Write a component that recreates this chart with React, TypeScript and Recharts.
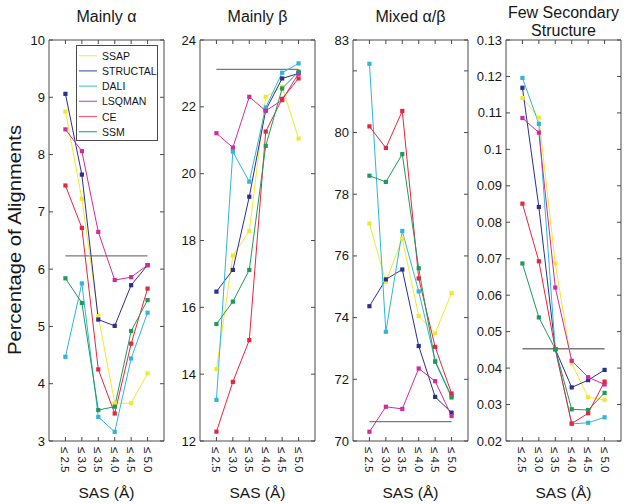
import React from "react";
import { LineChart, Line, XAxis, YAxis, ReferenceLine, ReferenceArea } from "recharts";

const FONT = "'Liberation Sans', Arial, Helvetica, sans-serif";

// ---------- data ----------
const sasCutoffs = [2.5, 3.0, 3.5, 4.0, 4.5, 5.0];
const sasTickLabels = ["≤ 2.5", "≤ 3.0", "≤ 3.5", "≤ 4.0", "≤ 4.5", "≤ 5.0"];
const methodNames = ["SSAP", "STRUCTAL", "DALI", "LSQMAN", "CE", "SSM"];
const methodColors = ["#f2e92e", "#2d2f8e", "#31b5d8", "#cf2b9e", "#e4263f", "#1f9a5d"];
const legendColors = ["#f3ec6a", "#5b5db0", "#5cc8d0", "#c45cc0", "#e8607a", "#3fa882"];

const panelTitles = [["Mainly α"], ["Mainly β"], ["Mixed α/β"], ["Few Secondary", "Structure"]];
const yAxisTitle = "Percentage of Alignments";
const xAxisTitle = "SAS (Å)";

// Mainly alpha
const alphaSSAP = [8.75, 7.23, 5.18, 3.66, 3.66, 4.18];
const alphaSTRUCTAL = [9.06, 7.65, 5.12, 5.01, 5.72, 6.07];
const alphaDALI = [4.47, 5.75, 3.42, 3.16, 4.44, 5.24];
const alphaLSQMAN = [8.44, 8.06, 6.65, 5.81, 5.86, 6.07];
const alphaCE = [7.46, 6.72, 4.25, 3.48, 4.7, 5.66];
const alphaSSM = [5.84, 5.41, 3.54, 3.6, 4.92, 5.46];
const alphaAverage = 6.23;
const alphaTicks = [3, 4, 5, 6, 7, 8, 9, 10];
const alphaTickLabels = ["3", "4", "5", "6", "7", "8", "9", "10"];

// Mainly beta
const betaSSAP = [14.15, 17.55, 18.28, 22.3, 22.6, 21.05];
const betaSTRUCTAL = [16.47, 17.12, 19.31, 21.9, 22.85, 23.0];
const betaDALI = [13.23, 20.66, 19.76, 21.98, 23.02, 23.3];
const betaLSQMAN = [21.21, 20.78, 22.3, 21.88, 22.2, 23.0];
const betaCE = [12.28, 13.77, 15.02, 21.26, 22.24, 22.85];
const betaSSM = [15.5, 16.17, 17.12, 20.83, 22.55, 23.05];
const betaAverage = 23.12;
const betaTicks = [12, 14, 16, 18, 20, 22, 24];
const betaTickLabels = ["12", "14", "16", "18", "20", "22", "24"];

// Mixed alpha/beta
const mixedSSAP = [77.05, 75.16, 76.56, 74.05, 73.49, 74.8];
const mixedSTRUCTAL = [74.37, 75.24, 75.56, 73.08, 71.43, 70.92];
const mixedDALI = [82.23, 73.54, 76.81, 74.85, 72.6, 71.45];
const mixedLSQMAN = [70.3, 71.11, 71.04, 72.35, 71.94, 70.81];
const mixedCE = [80.2, 79.5, 80.7, 75.27, 73.05, 71.54];
const mixedSSM = [78.6, 78.4, 79.3, 75.6, 72.57, 71.41];
const mixedAverage = 70.63;
const mixedTicks = [70, 72, 74, 76, 78, 80, 82, 83];
const mixedTickLabels = ["70", "72", "74", "76", "78", "80", "", "83"];

// Few secondary structure
const fewSSAP = [0.1141, 0.1087, 0.0687, 0.0413, 0.032, 0.0313];
const fewSTRUCTAL = [0.1169, 0.0842, 0.0452, 0.0347, 0.0367, 0.0395];
const fewDALI = [0.1196, 0.107, 0.0452, 0.0247, 0.025, 0.0265];
const fewLSQMAN = [0.1086, 0.1046, 0.0621, 0.042, 0.0375, 0.0355];
const fewCE = [0.0851, 0.0693, 0.0452, 0.0248, 0.0276, 0.0363];
const fewSSM = [0.0687, 0.0539, 0.0452, 0.0287, 0.0285, 0.0332];
const fewAverage = 0.0453;
const fewTicks = [0.02, 0.03, 0.04, 0.05, 0.06, 0.07, 0.08, 0.09, 0.1, 0.11, 0.12, 0.13];
const fewTickLabels = ["0.02", "0.03", "0.04", "0.05", "0.06", "0.07", "0.08", "0.09", "0.1", "0.11", "0.12", "0.13"];

// ---------- layout ----------
const PANEL_LEFTS = [49, 200, 353, 506];
const PLOT_W = 115;
const PLOT_TOP = 40;
const PLOT_BOTTOM = 441;
const YAXIS_W = 45;
const RIGHT_M = 4;
const CHART_H = 504;
const FRAME = "#4a4a4a";
const TEXT = "#161616";

type PanelProps = {
  series: number[][];
  ticks: number[];
  tickLabels: string[];
  avg: number;
};

function Panel({ series, ticks, tickLabels, avg }: PanelProps) {
  const rows = sasCutoffs.map((x, i) => {
    const r: any = { sas: x };
    methodNames.forEach((m, j) => {
      r[m] = series[j][i];
    });
    return r;
  });
  const lo = ticks[0];
  const hi = ticks[ticks.length - 1];
  const plotRight = YAXIS_W + PLOT_W;

  const XTick = (p: any) => {
    const x = p.x;
    const idx = sasCutoffs.indexOf(p.payload.value);
    return (
      <g>
        <line x1={x} x2={x} y1={PLOT_BOTTOM} y2={PLOT_BOTTOM - 4} stroke={FRAME} />
        <line x1={x} x2={x} y1={PLOT_TOP} y2={PLOT_TOP + 4} stroke={FRAME} />
        <text
          transform={`translate(${x},${PLOT_BOTTOM + 6}) rotate(90)`}
          fontSize={11.5}
          fontFamily={FONT}
          fill={TEXT}
          textAnchor="start"
          dominantBaseline="central"
        >
          {sasTickLabels[idx]}
        </text>
      </g>
    );
  };

  const YTick = (p: any) => {
    const y = p.y;
    const idx = ticks.indexOf(p.payload.value);
    return (
      <g>
        <line x1={YAXIS_W} x2={YAXIS_W + 4} y1={y} y2={y} stroke={FRAME} />
        <line x1={plotRight - 4} x2={plotRight} y1={y} y2={y} stroke={FRAME} />
        <text
          x={YAXIS_W - 4}
          y={y}
          fontSize={13}
          fontFamily={FONT}
          fill={TEXT}
          textAnchor="end"
          dominantBaseline="central"
        >
          {tickLabels[idx]}
        </text>
      </g>
    );
  };

  return (
    <LineChart
      width={YAXIS_W + PLOT_W + RIGHT_M}
      height={CHART_H}
      data={rows}
      margin={{ top: PLOT_TOP, right: RIGHT_M, bottom: 0, left: 0 }}
    >
      <XAxis
        dataKey="sas"
        type="number"
        domain={[2, 5.5]}
        ticks={sasCutoffs}
        interval={0}
        height={CHART_H - PLOT_BOTTOM}
        axisLine={false}
        tickLine={false}
        tick={XTick}
        allowDataOverflow
      />
      <YAxis
        type="number"
        domain={[lo, hi]}
        ticks={ticks}
        interval={0}
        width={YAXIS_W}
        axisLine={false}
        tickLine={false}
        tick={YTick}
        allowDataOverflow
      />
      <ReferenceArea x1={2} x2={5.5} y1={lo} y2={hi} fill="none" stroke={FRAME} strokeWidth={1} ifOverflow="visible" />
      <ReferenceLine
        segment={[
          { x: 2.5, y: avg },
          { x: 5.0, y: avg },
        ]}
        stroke="#7a7a7a"
        strokeWidth={1.3}
      />
      {methodNames.map((m, j) => (
        <Line
          key={m}
          dataKey={m}
          stroke={methodColors[j]}
          strokeWidth={1}
          isAnimationActive={false}
          activeDot={false}
          dot={(d: any) => (
            <rect
              key={`${m}-${d.index}`}
              x={d.cx - 2.1}
              y={d.cy - 2.1}
              width={4.2}
              height={4.2}
              fill={methodColors[j]}
            />
          )}
        />
      ))}
    </LineChart>
  );
}

const panels: PanelProps[] = [
  {
    series: [alphaSSAP, alphaSTRUCTAL, alphaDALI, alphaLSQMAN, alphaCE, alphaSSM],
    ticks: alphaTicks,
    tickLabels: alphaTickLabels,
    avg: alphaAverage,
  },
  {
    series: [betaSSAP, betaSTRUCTAL, betaDALI, betaLSQMAN, betaCE, betaSSM],
    ticks: betaTicks,
    tickLabels: betaTickLabels,
    avg: betaAverage,
  },
  {
    series: [mixedSSAP, mixedSTRUCTAL, mixedDALI, mixedLSQMAN, mixedCE, mixedSSM],
    ticks: mixedTicks,
    tickLabels: mixedTickLabels,
    avg: mixedAverage,
  },
  {
    series: [fewSSAP, fewSTRUCTAL, fewDALI, fewLSQMAN, fewCE, fewSSM],
    ticks: fewTicks,
    tickLabels: fewTickLabels,
    avg: fewAverage,
  },
];

export default function App() {
  return (
    <div
      style={{
        position: "absolute",
        left: 0,
        top: 0,
        width: 629,
        height: 504,
        background: "#fff",
        fontFamily: FONT,
      }}
    >
      <svg width={629} height={504} style={{ position: "absolute", left: 0, top: 0 }}>
        {panelTitles.map((lines, i) => {
          const cx = PANEL_LEFTS[i] + PLOT_W / 2;
          const startY = lines.length === 1 ? 22 : 18;
          return lines.map((t, k) => (
            <text
              key={`${i}-${k}`}
              x={cx}
              y={startY + k * 17.5}
              textAnchor="middle"
              fontSize={16}
              fontFamily={FONT}
              fill={TEXT}
            >
              {t}
            </text>
          ));
        })}
        {PANEL_LEFTS.map((l, i) => (
          <text
            key={`sas-${i}`}
            x={l + PLOT_W / 2}
            y={498}
            textAnchor="middle"
            fontSize={15.5}
            fontFamily={FONT}
            fill={TEXT}
          >
            {xAxisTitle}
          </text>
        ))}
        <text
          transform="translate(21,240) rotate(-90)"
          textAnchor="middle"
          fontSize={19}
          fontFamily={FONT}
          fill={TEXT}
          textLength={230}
          lengthAdjust="spacingAndGlyphs"
        >
          {yAxisTitle}
        </text>
      </svg>
      {panels.map((p, i) => (
        <div
          key={i}
          style={{ position: "absolute", left: PANEL_LEFTS[i] - YAXIS_W, top: 0 }}
        >
          <Panel {...p} />
        </div>
      ))}
      <svg width={629} height={504} style={{ position: "absolute", left: 0, top: 0, pointerEvents: "none" }}>
        <rect x={76.5} y={45.5} width={81} height={95} fill="#fff" stroke={FRAME} strokeWidth={1} />
        {methodNames.map((m, j) => {
          const y = 55.7 + j * 15.2;
          return (
            <g key={m}>
              <line x1={79} x2={97} y1={y} y2={y} stroke={legendColors[j]} strokeWidth={1.2} />
              <text
                x={102}
                y={y}
                fontSize={10.5}
                fontFamily={FONT}
                fill={TEXT}
                dominantBaseline="central"
              >
                {m}
              </text>
            </g>
          );
        })}
      </svg>
    </div>
  );
}
